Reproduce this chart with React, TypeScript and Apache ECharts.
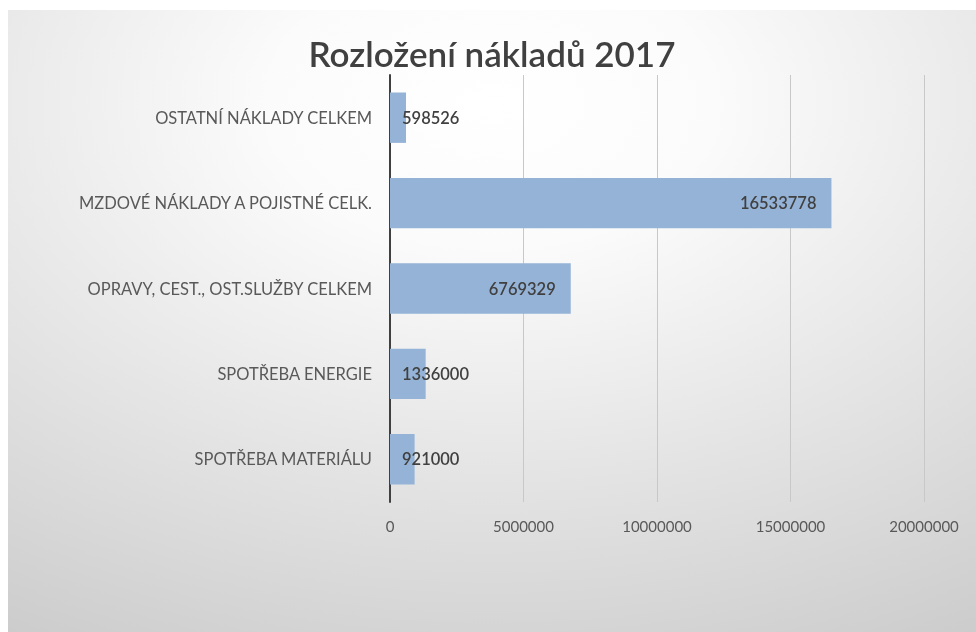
import React, { useEffect, useRef } from "react";
import * as echarts from "echarts";

const categories = [
  "OSTATNÍ NÁKLADY CELKEM",
  "MZDOVÉ NÁKLADY A POJISTNÉ CELK.",
  "OPRAVY, CEST., OST.SLUŽBY CELKEM",
  "SPOTŘEBA ENERGIE",
  "SPOTŘEBA MATERIÁLU",
];
const values = [598526, 16533778, 6769329, 1336000, 921000];
const titleText = "Rozložení nákladů 2017";
const axisMin = 0;
const axisMax = 20000000;
const axisStep = 5000000;

export default function App() {
  const ref = useRef<HTMLDivElement>(null);
  useEffect(() => {
    if (!ref.current) return;
    const chart = echarts.init(ref.current, null, { renderer: "svg" });
    const font = "Lato, 'Open Sans', sans-serif";
    chart.setOption({
      animation: false,
      graphic: [
        {
          type: "rect",
          silent: true,
          z: -10,
          shape: { x: 0, y: 0, width: 968, height: 622 },
          style: {
            fill: {
              type: "radial",
              x: 0.5,
              y: 0.15,
              r: 1.15,
              colorStops: [
                { offset: 0, color: "#ffffff" },
                { offset: 0.2, color: "#fbfbfb" },
                { offset: 1, color: "#c2c2c2" },
              ],
            },
          },
        },
      ],
      title: {
        text: titleText,
        left: "center",
        top: 20,
        textStyle: {
          fontFamily: font,
          fontSize: 35,
          fontWeight: 600,
          color: "#404040",
        },
      },
      grid: { left: 382, right: 52, top: 65, height: 427, containLabel: false },
      xAxis: {
        type: "value",
        min: axisMin,
        max: axisMax,
        interval: axisStep,
        axisLine: { show: false },
        axisTick: { show: false },
        splitLine: { show: true, lineStyle: { color: "#c8c8c8", width: 1 } },
        axisLabel: {
          color: "#595959",
          fontFamily: font,
          fontSize: 15,
          margin: 16,
          formatter: (v: number) => String(v),
        },
      },
      yAxis: {
        type: "category",
        data: categories,
        inverse: true,
        axisLine: { show: true, lineStyle: { color: "#404040", width: 2 } },
        axisTick: { show: false },
        axisLabel: {
          color: "#595959",
          fontFamily: font,
          fontSize: 16.5,
          margin: 18,
        },
      },
      series: [
        {
          type: "bar",
          barCategoryGap: "41%",
          itemStyle: { color: "#95b3d7" },
          data: values.map((v) => {
            const small = v < 3000000;
            return {
              value: v,
              label: {
                show: true,
                position: small ? "insideLeft" : "insideRight",
                distance: small ? 12 : 15,
                color: "#404040",
                fontFamily: font,
                fontSize: 16.5,
                fontWeight: 600,
              },
            };
          }),
        },
      ],
    });
    return () => chart.dispose();
  }, []);
  return (
    <div
      ref={ref}
      style={{ position: "fixed", left: 8, top: 10, width: 968, height: 622 }}
    />
  );
}
